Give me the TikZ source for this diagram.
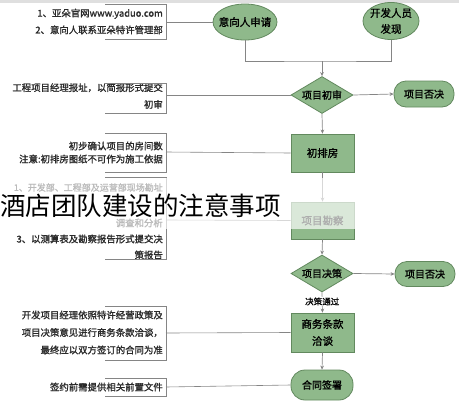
\documentclass[tikz,border=0pt]{standalone}
\usepackage{fontspec}
\usepackage{xcolor}
\usepackage{tikz}
\usetikzlibrary{positioning,arrows.meta,shapes.geometric}
\newfontfamily\cjk{Noto Sans CJK SC}
\newfontfamily\cjkb[FakeBold=1.4]{Noto Sans CJK SC}
\definecolor{nodefill}{HTML}{8FB98B}
\definecolor{nodeedge}{HTML}{62895E}
\definecolor{wire}{HTML}{858585}
\definecolor{notetext}{HTML}{2A2A2A}

\begin{document}
\begin{tikzpicture}[x=1pt,y=-1pt,
                    start/.style={ellipse,draw=nodeedge,fill=nodefill,thick,
                                  inner xsep=-8pt,inner ysep=0pt,align=center,
                                  font=\cjkb\fontsize{10.5pt}{16pt}\selectfont},
                    box/.style={draw=nodeedge,fill=nodefill,thick,inner sep=0pt,
                                minimum width=63pt,align=center,
                                font=\cjkb\fontsize{10.5pt}{17pt}\selectfont},
                    check/.style={diamond,draw=nodeedge,fill=nodefill,thick,
                                  shape aspect=1.7,inner sep=0pt,
                                  minimum width=62pt,minimum height=37pt,
                                  font=\cjkb\fontsize{10pt}{12pt}\selectfont},
                    endbox/.style={draw=nodeedge,fill=nodefill,thick,inner sep=0pt,
                                   rounded corners=12pt,minimum width=60pt,
                                   font=\cjkb\fontsize{10pt}{12pt}\selectfont},
                    note/.style={anchor=east,align=right,inner sep=0pt,text=notetext,
                                 font=\cjkb\fontsize{9.4pt}{16.8pt}\selectfont},
                    bracket/.style={draw=wire,line width=0.6pt},
                    flow/.style={-{Stealth[length=4pt,width=3.6pt]},draw=wire,line width=0.7pt}]

  \useasboundingbox (0,0) rectangle (459,400);
  \fill[gray!25] (0,0) rectangle (459,3);

  % main column
  \node[start,minimum width=64pt,minimum height=36pt] (Apply) at (245,22) {意向人申请};
  \node[start,minimum width=56pt,minimum height=37pt] (Found) at (391,21) {开发人员\\发现};
  \coordinate (join) at (322,61);
  \node[check] (First) at (322,95) {项目初审};
  \node[endbox,minimum height=26pt] (RejA) at (424,94) {项目否决};
  \node[box,minimum height=38pt] (Plan) at (322.5,153) {初排房};
  \node[box,minimum height=37pt] (Survey) at (322.5,220.5) {项目勘察};
  \node[check] (Decide) at (322,273.5) {项目决策};
  \node[endbox,minimum height=25pt] (RejB) at (425,274) {项目否决};
  \node[box,minimum height=39pt] (Talk) at (322.5,332.5) {商务条款\\洽谈};
  \node[endbox,minimum height=30pt,rounded corners=14pt,minimum width=62pt] (Sign) at (322,385) {合同签署};

  \draw[draw=wire,line width=0.7pt] (Apply.south) |- (join) -| (Found.south);
  \draw[flow] (join) -- (First.north);
  \draw[flow] (First.east) -- (RejA.west);
  \draw[flow] (First.south) -- (Plan.north);
  \draw[flow] (Plan.south) -- (Survey.north);
  \draw[flow] (Survey.south) -- (Decide.north);
  \draw[flow] (Decide.east) -- (RejB.west);
  \draw[flow] (Decide.south) -- node[fill=white,inner sep=1pt,pos=0.45,
      font=\cjkb\fontsize{8.5pt}{10pt}\selectfont] (Pass) {决策通过} (Talk.north);
  \draw[flow] (Talk.south) -- (Sign.north);

  % notes on the left
  \node[note] (NoteA) at (163,21.5) {1、亚朵官网www.yaduo.com\\2、意向人联系亚朵特许管理部};
  \node[note] (NoteB) at (163,96) {工程项目经理报址，以简报形式提交\\初审};
  \node[note,font=\cjkb\fontsize{9.4pt}{13pt}\selectfont] (NoteC) at (163,152.5)
       {初步确认项目的房间数\\注意:初排房图纸不可作为施工依据};
  \node[note,font=\cjkb\fontsize{9pt}{16pt}\selectfont] (NoteD1) at (163,187.5)
       {1、开发部、工程部及运营部现场勘址};
  \node[note,font=\cjkb\fontsize{9.4pt}{16pt}\selectfont] (NoteD2) at (163,239)
       {调查和分析\\3、以测算表及勘察报告形式提交决\\策报告};
  \node[note,font=\cjkb\fontsize{9.4pt}{17.5pt}\selectfont] (NoteE) at (163,332.5)
       {开发项目经理依照特许经营政策及\\项目决策意见进行商务条款洽谈，\\最终应以双方签订的合同为准};
  \node[note] (NoteF) at (163,387) {签约前需提供相关前置文件};

  \coordinate (tA) at (166,22);  \coordinate (tB) at (166,95);
  \coordinate (tC) at (166,152); \coordinate (tD) at (166,220);
  \coordinate (tE) at (166,333); \coordinate (tF) at (166,387);

  \draw[bracket] (105,4) -- (166,4) -- (166,39) -- (105,39);
  \draw[bracket] (105,83) -- (166,83) -- (166,113) -- (105,113);
  \draw[bracket] (105,133) -- (166,133) -- (166,172) -- (105,172);
  \draw[bracket] (105,177) -- (166,177) -- (166,259) -- (105,259);
  \draw[bracket] (105,306) -- (166,306) -- (166,360) -- (105,360);
  \draw[bracket] (105,378) -- (166,378) -- (166,396) -- (105,396);

  \draw[bracket] (tA) -- (Apply.west);
  \draw[bracket] (tB) -- (First.west);
  \draw[bracket] (tC) -- (Plan.west);
  \draw[bracket] (tD) -- (Survey.west);
  \draw[bracket] (tE) -- (Talk.west);
  \draw[bracket] (tF) -- (Sign.west);

  % washed-out band under the title
  \fill[white,opacity=0.68] (0,178) rectangle (357,228.5);
  \node[anchor=west,inner sep=0pt,font=\cjk\fontsize{25.5pt}{30pt}\selectfont] (Title)
       at (0,206) {酒店团队建设的注意事项};
\end{tikzpicture}
\end{document}
